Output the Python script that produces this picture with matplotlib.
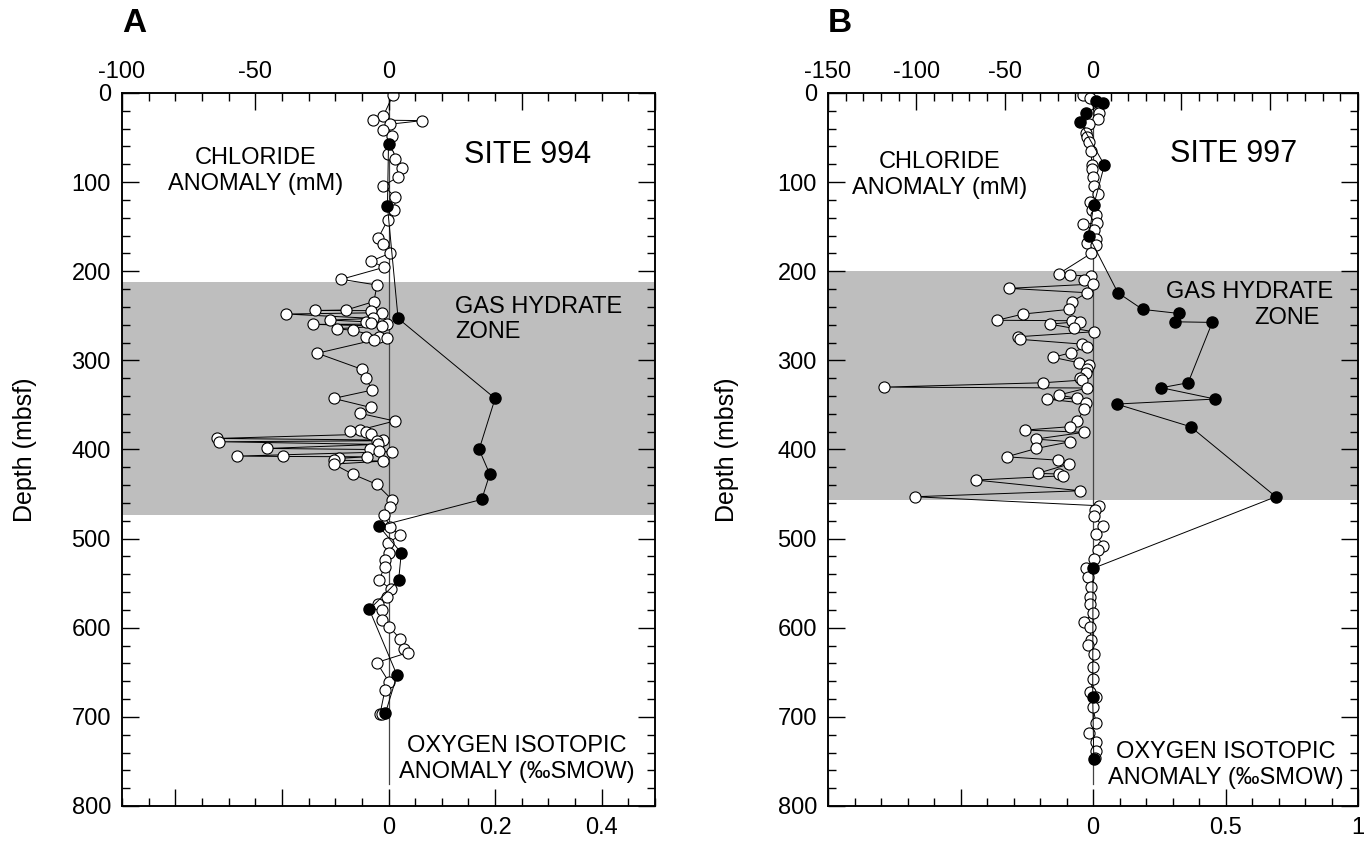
import matplotlib
matplotlib.use("Agg")
import matplotlib.pyplot as plt
from matplotlib.ticker import FixedLocator, FixedFormatter, MultipleLocator

plt.rcParams['font.family'] = ['Liberation Sans', 'DejaVu Sans']
plt.rcParams['axes.unicode_minus'] = False

# ---------------- Site 994 ----------------
a_cl_depth = [2.2, 25.4, 30.3, 31, 35, 41.5, 48, 68.5, 74.5, 84.5, 94.6, 104, 117,
              131.3, 142.5, 163, 169.8, 180, 188.6, 195.6, 209, 215.5, 234, 243.5,
              244, 244.2, 246.5, 248, 252.9, 254.8, 256.7, 258.5, 259.3, 259.6,
              261.5, 264.5, 266.4, 273.5, 274.2, 275.3, 277.2, 292, 310, 319.5,
              333.3, 342.7, 352.8, 359.5, 368, 378, 379, 380.8, 382.7, 387.6,
              389.4, 390.2, 391.3, 394.3, 398.8, 400, 401.8, 402.5, 407.4, 407.8,
              408.2, 410, 411.9, 413, 416.4, 428, 439, 456.8, 465, 473.6, 486.7,
              496, 505.4, 516, 524, 531.6, 546.6, 557, 565.3, 572.8, 580.2, 591.5,
              599, 613, 624.4, 627.8, 639, 661.4, 669.3, 697, 697.2]
a_cl_value = [1.7, -1.9, -5.8, 12.5, 0.6, -1.9, 1.3, -0.3, 2.6, 4.9, 3.4, -1.9, 2.6,
              2.2, -0.3, -3.9, -1.9, 0.4, -6.5, -1.7, -17.7, -4.3, -5.5, -15.9,
              -27.5, -6.7, -2.5, -38.3, -5.8, -21.9, -8.6, -6.5, -0.6, -28.4,
              -2.3, -19.4, -13.2, -3.5, -8.6, -0.6, -5.5, -26.7, -10.0, -8.6,
              -6.1, -20.6, -6.7, -10.6, 2.3, -10.6, -14.6, -8.6, -6.5, -64.5,
              -1.9, -4.5, -63.5, -3.9, -45.5, -7.1, -3.6, 1.3, -56.8, -39.6,
              -8.0, -18.7, -20.6, -1.9, -20.6, -13.2, -4.5, 1.5, 0.6, -1.8, 0.6,
              4.3, -0.3, 0.3, -1.3, -1.5, -3.5, 1.0, -0.5, -3.9, -2.6, -2.3,
              0.3, 4.5, 5.8, 7.4, -4.4, 0.3, -1.3, -3.2, -2.3]
a_ox_depth = [57.6, 126.8, 252.9, 342.7, 400, 427.6, 456, 486, 516, 546.6, 579.5,
              653.2, 696.2]
a_ox_value = [0.0, -0.002, 0.018, 0.20, 0.17, 0.19, 0.175, -0.018, 0.024, 0.019,
              -0.036, 0.016, -0.006]
a_hydrate_zone = (212, 473)

# ---------------- Site 997 ----------------
b_cl_depth = [2.2, 6, 22, 29.6, 35, 44.5, 49.7, 55.4, 65, 80.8, 85.7, 94, 104.4,
              113.4, 122, 131.3, 137, 145.5, 147.4, 153.8, 164.2, 168.7, 170.6,
              180, 203, 204.3, 205.4, 209.9, 214.4, 219.2, 224.1, 234.2, 242.8,
              248, 255, 255.5, 256.5, 259.3, 264.1, 267.9, 273.5, 276.4, 281.7,
              284.7, 291.4, 296.6, 302.6, 305.3, 310.1, 314.6, 320.2, 322.1,
              325.1, 330, 331, 338.9, 342.6, 343.4, 348.3, 355, 367.7, 374.4,
              378.2, 380.7, 388.3, 391.3, 398.8, 408.2, 412, 416.4, 426.8, 427.5,
              429.5, 434.3, 446.3, 453, 463.1, 468, 474.7, 485.6, 495, 508.4, 513,
              523, 532.7, 543.6, 554.8, 565.3, 573.5, 584, 593.3, 599.7, 613.2,
              619.5, 628.9, 643.8, 658, 671.9, 677.5, 688.7, 707.4, 717.9, 728.7,
              738.1, 746.7]
b_cl_value = [-5.4, -1.7, 3.2, 2.6, -2.4, -3.9, -3.2, -2.4, -1.1, -0.6, -0.6, -0.2,
              0.4, 3.0, -1.5, -0.6, 1.5, 2.4, -5.6, 0.4, 1.5, -3.2, 1.5, -1.1,
              -19.5, -13.2, -1.1, -5.0, -0.2, -47.8, -3.2, -12.1, -13.6, -39.6,
              -54.3, -11.9, -7.6, -24.4, -11.0, 0.4, -42.4, -41.3, -6.5, -3.2,
              -12.5, -22.7, -8.2, -2.4, -3.2, -3.9, -7.1, -6.0, -28.1, -118.1,
              -3.2, -19.5, -8.9, -26.2, -3.9, -5.0, -8.9, -13.0, -38.5, -5.0,
              -32.4, -13.0, -32.0, -48.9, -19.7, -13.6, -31.4, -19.0, -16.9,
              -66.2, -7.1, -100.8, 3.2, 0.9, 0.4, 5.4, 1.9, 5.8, 2.8, 0.6, -3.9,
              -2.8, -1.1, -1.5, -1.9, 0.0, -5.0, -1.7, -1.1, -2.8, 0.6, -0.2, 0.2,
              -1.7, 1.5, -0.2, 1.9, -2.4, 1.5, 1.5, 1.1]
b_ox_depth = [8.6, 11.6, 22.8, 32.2, 80.8, 125.7, 160.5, 224.1, 242.8, 247.3,
              256.7, 257.4, 325.1, 330.7, 343.4, 349, 374.4, 453, 533.4, 677.5,
              747.5]
b_ox_value = [0.010, 0.036, -0.026, -0.05, 0.043, 0.003, -0.016, 0.094, 0.187,
              0.323, 0.31, 0.45, 0.359, 0.258, 0.461, 0.089, 0.368, 0.69, 0.0,
              -0.001, 0.003]
b_hydrate_zone = (200, 457)

depth_ticks = [0, 100, 200, 300, 400, 500, 600, 700, 800]

panels = [
    dict(letter='A', site='SITE 994', cl_lim=(-100, 100),
         cl_ticks=[-100, -50, 0, 50, 100], cl_labels=['-100', '-50', '0', '', ''],
         ox_lim=(-0.5, 0.5), ox_ticks=[-0.4, -0.2, 0, 0.2, 0.4],
         ox_labels=['', '', '0', '0.2', '0.4'], ox_minor=0.05,
         cl_depth=a_cl_depth, cl_value=a_cl_value,
         ox_depth=a_ox_depth, ox_value=a_ox_value, zone=a_hydrate_zone,
         ylabel_x=-0.160,
         rect=[122 / 1369, 36 / 842, 533 / 1369, 713 / 842]),
    dict(letter='B', site='SITE 997', cl_lim=(-150, 150),
         cl_ticks=[-150, -100, -50, 0, 50, 100, 150],
         cl_labels=['-150', '-100', '-50', '0', '', '', ''],
         ox_lim=(-1, 1), ox_ticks=[-1, -0.5, 0, 0.5, 1],
         ox_labels=['', '', '0', '0.5', '1'], ox_minor=0.1,
         cl_depth=b_cl_depth, cl_value=b_cl_value,
         ox_depth=b_ox_depth, ox_value=b_ox_value, zone=b_hydrate_zone,
         ylabel_x=-0.168,
         rect=[828 / 1369, 36 / 842, 530 / 1369, 713 / 842]),
]

fig = plt.figure(figsize=(13.69, 8.42), dpi=100)
TICK_FS = 17
TEXT_FS = 17
LINE_W = 0.7
MS = 8.0

for p in panels:
    ax = fig.add_axes(p['rect'])
    ax2 = ax.twiny()

    # depth axis and background
    ax.set_ylim(800, 0)
    ax.set_xlim(*p['cl_lim'])
    ax.axhspan(p['zone'][0], p['zone'][1], color='#bebebe', lw=0, zorder=0)
    ax.plot([0, 0], [0, 775], color='#444444', lw=0.9, zorder=1)

    # chloride anomaly on the top scale
    ax.plot(p['cl_value'], p['cl_depth'], '-o', color='black', lw=LINE_W,
            ms=MS, mfc='white', mec='black', mew=0.8, zorder=3)

    ax.xaxis.set_ticks_position('top')
    ax.xaxis.set_label_position('top')
    ax.xaxis.set_major_locator(FixedLocator(p['cl_ticks']))
    ax.xaxis.set_major_formatter(FixedFormatter(p['cl_labels']))
    ax.xaxis.set_minor_locator(MultipleLocator(10))
    ax.yaxis.set_major_locator(FixedLocator(depth_ticks))
    ax.yaxis.set_minor_locator(MultipleLocator(20))
    ax.tick_params(axis='x', which='both', direction='in', top=True, bottom=False,
                   labeltop=True, labelbottom=False)
    ax.tick_params(axis='y', which='both', direction='in', left=True, right=True,
                   labelleft=True, labelright=False)
    ax.tick_params(which='major', length=12, width=1.0, labelsize=TICK_FS)
    ax.tick_params(which='minor', length=6, width=1.0)
    ax.tick_params(axis='x', which='major', pad=7)
    ax.tick_params(axis='y', which='major', pad=8)
    for s in ax.spines.values():
        s.set_linewidth(1.1)
    ax.set_ylabel('Depth (mbsf)', fontsize=18)
    ax.yaxis.set_label_coords(p['ylabel_x'], 0.5)

    # oxygen isotopic anomaly on the bottom scale
    ax2.set_xlim(*p['ox_lim'])
    ax2.set_ylim(800, 0)
    ax2.patch.set_visible(False)
    ax2.plot(p['ox_value'], p['ox_depth'], '-o', color='black', lw=LINE_W,
             ms=MS, mfc='black', mec='black', zorder=4)
    ax2.xaxis.set_ticks_position('bottom')
    ax2.xaxis.set_label_position('bottom')
    ax2.xaxis.set_major_locator(FixedLocator(p['ox_ticks']))
    ax2.xaxis.set_major_formatter(FixedFormatter(p['ox_labels']))
    ax2.xaxis.set_minor_locator(MultipleLocator(p['ox_minor']))
    ax2.tick_params(axis='x', which='both', direction='in', top=False, bottom=True,
                    labeltop=False, labelbottom=True)
    ax2.tick_params(which='major', length=12, width=1.0, labelsize=TICK_FS, pad=8)
    ax2.tick_params(which='minor', length=6, width=1.0)
    for s in ax2.spines.values():
        s.set_linewidth(1.1)

    ax.text(0.0, 1.097, p['letter'], transform=ax.transAxes, fontsize=24,
            fontweight='bold', ha='left', va='center')

    if p['letter'] == 'A':
        ax.text(0.25, 0.891, 'CHLORIDE\nANOMALY (mM)', transform=ax.transAxes,
                fontsize=TEXT_FS, ha='center', va='center', linespacing=1.22)
        ax.text(0.76, 0.913, p['site'], transform=ax.transAxes, fontsize=22,
                ha='center', va='center')
        ax.text(0.625, 0.682, 'GAS HYDRATE\nZONE', transform=ax.transAxes,
                fontsize=TEXT_FS, ha='left', va='center', linespacing=1.18)
        ax.text(0.74, 0.066, 'OXYGEN ISOTOPIC\nANOMALY (‰SMOW)',
                transform=ax.transAxes, fontsize=TEXT_FS, ha='center',
                va='center', linespacing=1.22)
    else:
        ax.text(0.21, 0.885, 'CHLORIDE\nANOMALY (mM)', transform=ax.transAxes,
                fontsize=TEXT_FS, ha='center', va='center', linespacing=1.22)
        ax.text(0.766, 0.914, p['site'], transform=ax.transAxes, fontsize=22,
                ha='center', va='center')
        ax.text(0.796, 0.721, 'GAS HYDRATE', transform=ax.transAxes,
                fontsize=TEXT_FS, ha='center', va='center')
        ax.text(0.866, 0.684, 'ZONE', transform=ax.transAxes,
                fontsize=TEXT_FS, ha='center', va='center')
        ax.text(0.750, 0.057, 'OXYGEN ISOTOPIC\nANOMALY (‰SMOW)',
                transform=ax.transAxes, fontsize=TEXT_FS, ha='center',
                va='center', linespacing=1.22)

fig.savefig('out.png', dpi=100)
